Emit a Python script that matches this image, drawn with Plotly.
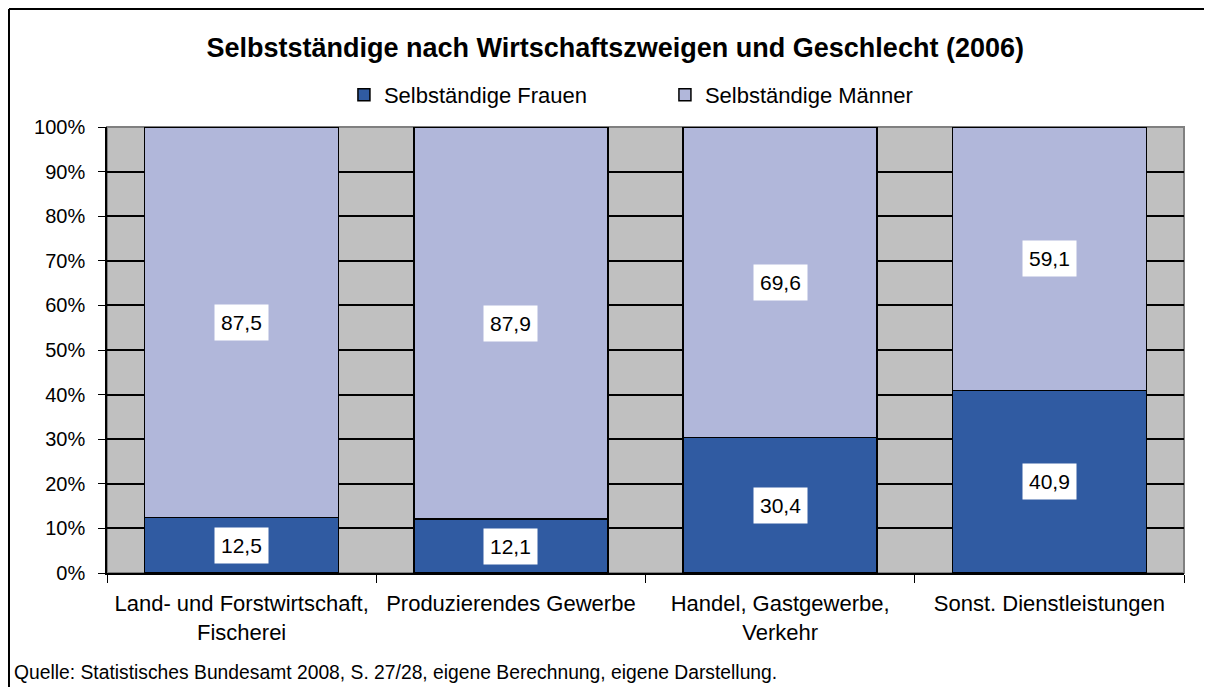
import plotly.graph_objects as go

categories = ["Land- und Forstwirtschaft,<br>Fischerei", "Produzierendes Gewerbe",
              "Handel, Gastgewerbe,<br>Verkehr", "Sonst. Dienstleistungen"]
frauen = [12.5, 12.1, 30.4, 40.9]
maenner = [87.5, 87.9, 69.6, 59.1]
y_ticks = [0, 10, 20, 30, 40, 50, 60, 70, 80, 90, 100]

FONT = "Liberation Sans, Arial, sans-serif"

fig = go.Figure()
fig.add_trace(go.Bar(x=categories, y=frauen, name="Selbständige Frauen",
                     marker=dict(color="#305BA2", line=dict(color="black", width=1.5))))
fig.add_trace(go.Bar(x=categories, y=maenner, name="Selbständige Männer",
                     marker=dict(color="#B1B7DA", line=dict(color="black", width=1.5))))

def fmt(v):
    return f"{v:.1f}".replace(".", ",")

# data labels in white boxes, centred in each segment
for c, f, m in zip(categories, frauen, maenner):
    for val, mid in [(f, f / 2), (m, f + m / 2)]:
        fig.add_annotation(x=c, y=mid, text=fmt(val), showarrow=False,
                           bgcolor="white", borderpad=6,
                           font=dict(family=FONT, size=21, color="black"))

# source line
fig.add_annotation(xref="paper", yref="paper", x=-0.0882, y=-0.2242,
                   xanchor="left", yanchor="middle", showarrow=False,
                   text="Quelle: Statistisches Bundesamt 2008, S. 27/28, eigene Berechnung, eigene Darstellung.",
                   font=dict(family=FONT, size=19.3, color="black"))

# outer chart frame: only top and left edges are visible
fig.add_shape(type="line", xref="paper", yref="paper",
              x0=-0.0910, x1=1.2, y0=1.2646, y1=1.2646,
              line=dict(color="black", width=2), layer="above")
fig.add_shape(type="line", xref="paper", yref="paper",
              x0=-0.0910, x1=-0.0910, y0=-0.35, y1=1.2646,
              line=dict(color="black", width=2), layer="above")
# plot area border
fig.add_shape(type="rect", xref="paper", yref="paper", x0=0, x1=1, y0=0, y1=1,
              line=dict(color="#808080", width=2), layer="between")

fig.update_layout(
    width=1212, height=687,
    margin=dict(l=99, r=36, t=119, b=122),
    paper_bgcolor="white", plot_bgcolor="#C0C0C0",
    barmode="stack", bargap=0.28,
    font=dict(family=FONT, size=21, color="black"),
    title=dict(text="<b>Selbstständige nach Wirtschaftszweigen und Geschlecht (2006)</b>",
               x=0.501, xanchor="center", y=0.9418, yanchor="middle",
               font=dict(family=FONT, size=27, color="black")),
    legend=dict(orientation="h", x=0.2200, xanchor="left", y=1.0717, yanchor="middle",
                font=dict(family=FONT, size=22), entrywidth=276, traceorder="normal",
                bgcolor="rgba(0,0,0,0)"),
    showlegend=True,
)
fig.update_xaxes(showline=True, linecolor="black", linewidth=1.5,
                 ticks="outside", tickson="boundaries", ticklen=8, tickcolor="black",
                 showgrid=False, ticklabelstandoff=10, tickfont=dict(size=22))
fig.update_yaxes(range=[0, 100], tickvals=y_ticks, ticktext=[f"{v}%" for v in y_ticks],
                 tickfont=dict(size=20),
                 showline=True, linecolor="black", linewidth=1.5,
                 ticks="outside", ticklen=7, tickcolor="black",
                 showgrid=True, gridcolor="black", gridwidth=1.5, zeroline=False,
                 ticklabelstandoff=9)

fig.write_html("out.html")
